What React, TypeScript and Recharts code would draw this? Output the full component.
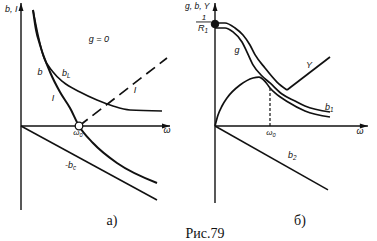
import React from 'react';
import { ComposedChart, Line, XAxis, YAxis, ReferenceDot } from 'recharts';

// ---------- Panel a) (units: omega0 = 1) ----------
const leftBL = [
  { x: 0.207, y: 2.0 }, { x: 0.293, y: 1.569 }, { x: 0.379, y: 1.224 }, { x: 0.552, y: 0.931 },
  { x: 0.724, y: 0.759 }, { x: 1.017, y: 0.586 }, { x: 1.31, y: 0.448 }, { x: 1.586, y: 0.345 },
  { x: 1.879, y: 0.276 }, { x: 2.431, y: 0.259 },
];
const leftB = [
  { x: 0.207, y: 2.0 }, { x: 0.259, y: 1.655 }, { x: 0.328, y: 1.397 }, { x: 0.5, y: 0.931 },
  { x: 0.672, y: 0.586 }, { x: 0.845, y: 0.31 }, { x: 1.0, y: 0 }, { x: 1.241, y: -0.293 },
  { x: 1.655, y: -0.638 }, { x: 2.345, y: -0.983 },
];
const leftI = [{ x: 1.0, y: 0 }, { x: 2.517, y: 1.172 }];
const leftBc = [{ x: 0, y: 0 }, { x: 2.345, y: -1.276 }];
const leftXAxisLine = [{ x: 0, y: 0 }, { x: 2.569, y: 0 }];
const leftYAxisLine = [{ x: 0, y: -1.448 }, { x: 0, y: 2.121 }];

// ---------- Panel б) ----------
const rightYCurve = [
  { x: 0, y: 1.01 }, { x: 0.182, y: 1.01 }, { x: 0.364, y: 0.961 }, { x: 0.509, y: 0.892 },
  { x: 0.636, y: 0.794 }, { x: 0.727, y: 0.7 }, { x: 0.909, y: 0.569 }, { x: 1.127, y: 0.431 },
  { x: 1.309, y: 0.353 },
];
const rightYRise = [{ x: 1.309, y: 0.353 }, { x: 2.091, y: 0.676 }];
const rightG = [
  { x: 0, y: 0.961 }, { x: 0.182, y: 0.961 }, { x: 0.327, y: 0.922 }, { x: 0.491, y: 0.824 },
  { x: 0.582, y: 0.725 }, { x: 0.691, y: 0.6 }, { x: 0.855, y: 0.49 }, { x: 1.0, y: 0.422 },
  { x: 1.218, y: 0.314 }, { x: 1.455, y: 0.245 }, { x: 1.636, y: 0.196 }, { x: 2.091, y: 0.137 },
];
const rightB = [
  { x: 0, y: 0 }, { x: 0.055, y: 0.108 }, { x: 0.127, y: 0.196 }, { x: 0.218, y: 0.275 },
  { x: 0.455, y: 0.402 }, { x: 0.691, y: 0.471 }, { x: 0.8, y: 0.48 }, { x: 0.909, y: 0.438 },
  { x: 1.0, y: 0.373 }, { x: 1.091, y: 0.324 }, { x: 1.327, y: 0.235 }, { x: 1.636, y: 0.147 },
  { x: 2.091, y: 0.088 },
];
const rightB2 = [{ x: 0, y: 0 }, { x: 2.055, y: -0.627 }];
const rightOmega0Drop = [{ x: 1.0, y: 0 }, { x: 1.0, y: 0.373 }];
const rightFracBar = [{ x: -0.345, y: 1.02 }, { x: -0.073, y: 1.02 }];
const rightXAxisLine = [{ x: 0, y: 0 }, { x: 2.78, y: 0 }];
const rightYAxisLine = [{ x: 0, y: -0.755 }, { x: 0, y: 1.206 }];

const W = 377;
const H = 241;
const SANS = "'Liberation Sans', Arial, sans-serif";
const SERIF = "'Liberation Serif', 'Times New Roman', serif";
const INK = '#111';

type TxtOpts = { anchor?: 'start' | 'middle' | 'end'; size?: number; serif?: boolean; italic?: boolean };

const txt = (main: string, sub?: string, o: TxtOpts = {}) => (p: any) => {
  const size = o.size ?? 9;
  return (
    <text
      x={p.cx}
      y={p.cy}
      textAnchor={o.anchor ?? 'middle'}
      fontFamily={o.serif ? SERIF : SANS}
      fontStyle={o.italic === false || o.serif ? 'normal' : 'italic'}
      fontSize={size}
      fill={INK}
    >
      {main}
      {sub !== undefined && (
        <tspan fontSize={size * 0.7} dy={2}>
          {sub}
        </tspan>
      )}
    </text>
  );
};

const arrowUp = (p: any) => (
  <polygon points={`${p.cx},${p.cy} ${p.cx - 2.5},${p.cy + 8} ${p.cx + 2.5},${p.cy + 8}`} fill={INK} />
);
const arrowRight = (p: any) => (
  <polygon points={`${p.cx},${p.cy} ${p.cx - 8},${p.cy - 2.5} ${p.cx - 8},${p.cy + 2.5}`} fill={INK} />
);

const lineProps = {
  dataKey: 'y',
  dot: false,
  activeDot: false,
  isAnimationActive: false,
  stroke: INK,
  legendType: 'none' as const,
};

const wrap: React.CSSProperties = { position: 'absolute', left: 0, top: 0, width: W, height: H };

export default function App() {
  return (
    <div style={{ position: 'absolute', left: 0, top: 0, width: W, height: H, background: '#fff' }}>
      {/* Panel a) */}
      <div style={wrap}>
        <ComposedChart width={W} height={H} margin={{ top: 0, right: 0, bottom: 0, left: 0 }}>
          <XAxis type="number" dataKey="x" domain={[-0.3621, 6.1379]} hide allowDataOverflow />
          <YAxis type="number" domain={[-1.9828, 2.1724]} hide allowDataOverflow />
          <Line {...lineProps} data={leftXAxisLine} type="linear" strokeWidth={1.4} />
          <Line {...lineProps} data={leftYAxisLine} type="linear" strokeWidth={1.4} />
          <Line {...lineProps} data={leftBc} type="linear" strokeWidth={1.5} />
          <Line {...lineProps} data={leftBL} type="monotone" strokeWidth={1.6} />
          <Line {...lineProps} data={leftB} type="monotone" strokeWidth={2} />
          <Line {...lineProps} data={leftI} type="linear" strokeWidth={1.7} strokeDasharray="11 6" />
          <ReferenceDot x={1.0} y={0} r={3.8} fill="#fff" stroke={INK} strokeWidth={1.3} />
          <ReferenceDot x={0} y={2.121} shape={arrowUp} />
          <ReferenceDot x={2.569} y={0} shape={arrowRight} />
          <ReferenceDot x={-0.276} y={1.966} shape={txt('b, I', undefined, { anchor: 'start' })} />
          <ReferenceDot x={1.345} y={1.448} shape={txt('g = 0')} />
          <ReferenceDot x={0.328} y={0.879} shape={txt('b')} />
          <ReferenceDot x={0.707} y={0.862} shape={txt('b', 'L', { anchor: 'start' })} />
          <ReferenceDot x={0.552} y={0.431} shape={txt('I')} />
          <ReferenceDot x={1.966} y={0.569} shape={txt('I')} />
          <ReferenceDot x={0.983} y={-0.155} shape={txt('ω', '0', { size: 8 })} />
          <ReferenceDot x={2.517} y={-0.121} shape={txt('ω')} />
          <ReferenceDot x={0.759} y={-0.724} shape={txt('-b', 'c', { anchor: 'start' })} />
          <ReferenceDot x={1.569} y={-1.707} shape={txt('а)', undefined, { serif: true, size: 14 })} />
        </ComposedChart>
      </div>
      {/* Panel б) */}
      <div style={wrap}>
        <ComposedChart width={W} height={H} margin={{ top: 0, right: 0, bottom: 0, left: 0 }}>
          <XAxis type="number" dataKey="x" domain={[-3.9091, 2.9455]} hide allowDataOverflow />
          <YAxis type="number" domain={[-1.1275, 1.2353]} hide allowDataOverflow />
          <Line {...lineProps} data={rightXAxisLine} type="linear" strokeWidth={1.4} />
          <Line {...lineProps} data={rightYAxisLine} type="linear" strokeWidth={1.4} />
          <Line {...lineProps} data={rightB2} type="linear" strokeWidth={1.5} />
          <Line {...lineProps} data={rightOmega0Drop} type="linear" strokeWidth={1.2} strokeDasharray="3 2" />
          <Line {...lineProps} data={rightYCurve} type="monotone" strokeWidth={1.7} />
          <Line {...lineProps} data={rightYRise} type="linear" strokeWidth={1.7} />
          <Line {...lineProps} data={rightG} type="monotone" strokeWidth={1.7} />
          <Line {...lineProps} data={rightB} type="monotone" strokeWidth={1.7} />
          <Line {...lineProps} data={rightFracBar} type="linear" strokeWidth={0.9} />
          <ReferenceDot x={0} y={1.0} r={3.8} fill={INK} stroke={INK} />
          <ReferenceDot x={0} y={1.206} shape={arrowUp} />
          <ReferenceDot x={2.78} y={0} shape={arrowRight} />
          <ReferenceDot x={-0.545} y={1.147} shape={txt('g, b, Y', undefined, { anchor: 'start', size: 8.5 })} />
          <ReferenceDot x={-0.2} y={1.04} shape={txt('1', undefined, { size: 8 })} />
          <ReferenceDot x={-0.218} y={0.931} shape={txt('R', '1', { size: 9 })} />
          <ReferenceDot x={0.4} y={0.716} shape={txt('g')} />
          <ReferenceDot x={1.709} y={0.569} shape={txt('Y')} />
          <ReferenceDot x={2.0} y={0.157} shape={txt('b', '1', { anchor: 'start' })} />
          <ReferenceDot x={1.018} y={-0.088} shape={txt('ω', '0', { size: 8 })} />
          <ReferenceDot x={2.636} y={-0.078} shape={txt('ω')} />
          <ReferenceDot x={1.327} y={-0.314} shape={txt('b', '2', { anchor: 'start' })} />
          <ReferenceDot x={1.545} y={-0.971} shape={txt('б)', undefined, { serif: true, size: 14 })} />
          <ReferenceDot x={-0.182} y={-1.098} shape={txt('Рис.79', undefined, { serif: true, size: 14 })} />
        </ComposedChart>
      </div>
    </div>
  );
}
